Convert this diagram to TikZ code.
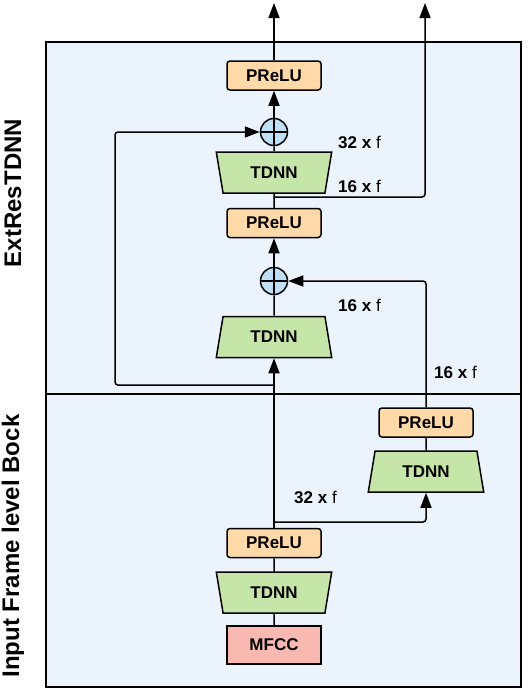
\documentclass[tikz,border=0pt]{standalone}
\usepackage{fontspec}
\setmainfont{Liberation Sans}
\usetikzlibrary{arrows.meta,shapes.geometric}
\definecolor{panel}{HTML}{EBF3FC}
\definecolor{prelucol}{HTML}{FFD9A8}
\definecolor{tdnncol}{HTML}{C6E6A9}
\definecolor{sumcol}{HTML}{BEDFF4}
\definecolor{mfcccol}{HTML}{F9B9B0}
\tikzset{
	prelu/.style={draw, line width=1.5pt, fill=prelucol, rounded corners=3pt, minimum width=94pt, minimum height=29pt, inner sep=0pt, font=\fontsize{17}{17}\selectfont\bfseries},
	tdnn/.style={draw, line width=1.5pt, fill=tdnncol, trapezium, trapezium angle=75, trapezium stretches=true, minimum width=116pt, minimum height=41pt, inner sep=0pt, font=\fontsize{17}{17}\selectfont\bfseries},
	wide top/.style={shape border rotate=180},
	sum/.style={draw, line width=1.5pt, fill=sumcol, circle, minimum size=27pt, inner sep=0pt,
		path picture={\draw[line width=1.2pt] (path picture bounding box.west) -- (path picture bounding box.east) (path picture bounding box.north) -- (path picture bounding box.south);}},
	mfcc/.style={draw, line width=1.5pt, fill=mfcccol, minimum width=94pt, minimum height=38pt, inner sep=0pt, font=\fontsize{17}{17}\selectfont\bfseries},
	dim/.style={anchor=west, inner sep=0pt, font=\fontsize{17}{17}\selectfont},
	block/.style={rotate=90, font=\fontsize{24}{24}\selectfont\bfseries},
	flow/.style={line width=1.5pt, -{Triangle[length=15pt,width=11pt]}},
	link/.style={line width=1.5pt}
}
\begin{document}
\begin{tikzpicture}[x=1pt, y=-1pt]
	\useasboundingbox (0,0) rectangle (532,688);

	% the two blocks
	\draw[line width=1.5pt, fill=panel] (46,42) rectangle (521,394);
	\draw[line width=1.5pt, fill=panel] (46,394) rectangle (521,687);
	\node[block] (ext) at (13,193) {ExtResTDNN};
	\node[block] (inp) at (13,546) {Input Frame level Bock};

	% input frame level block
	\node[mfcc] (mfcc) at (274,645) {MFCC};
	\node[tdnn, wide top] (tdin) at (274,592.5) {TDNN};
	\node[prelu] (prin) at (274,543) {PReLU};
	\node[tdnn] (tdr) at (426,471.5) {TDNN};
	\node[prelu] (prr) at (426,422.5) {PReLU};

	% ExtResTDNN
	\node[tdnn] (tdb) at (274,337) {TDNN};
	\node[sum] (sumb) at (274,281) {};
	\node[prelu] (prb) at (274,223) {PReLU};
	\node[tdnn, wide top] (tdt) at (274,172.5) {TDNN};
	\node[sum] (sumt) at (274,132) {};
	\node[prelu] (prt) at (274,75.5) {PReLU};

	\coordinate (outl) at (274,3);
	\coordinate (outr) at (425,3);
	\coordinate (brin) at (274,522);
	\coordinate (brskip) at (274,385);
	\coordinate (skip) at (115,132);
	\coordinate (brout) at (274,197);

	\draw[link] (mfcc) -- (tdin);
	\draw[link] (tdin) -- (prin);
	\draw[flow] (prin) -- (tdb);
	\draw[flow, rounded corners=3pt] (brin) -| (tdr);
	\draw[link] (tdr) -- (prr);
	\draw[flow, rounded corners=3pt] (prr) |- (sumb);
	\draw[link] (tdb) -- (sumb);
	\draw[flow] (sumb) -- (prb);
	\draw[link] (prb) -- (tdt);
	\draw[flow, rounded corners=3pt] (brout) -| (outr);
	\draw[link] (tdt) -- (sumt);
	\draw[flow, rounded corners=3pt] (brskip) -| (skip) -- (sumt);
	\draw[flow] (sumt) -- (prt);
	\draw[flow] (prt) -- (outl);

	% feature sizes
	\node[dim] (d1) at (338,142) {\textbf{32 x} f};
	\node[dim] (d2) at (338,186) {\textbf{16 x} f};
	\node[dim] (d3) at (338,305) {\textbf{16 x} f};
	\node[dim] (d4) at (434,372) {\textbf{16 x} f};
	\node[dim] (d5) at (294,497) {\textbf{32 x} f};
\end{tikzpicture}
\end{document}
